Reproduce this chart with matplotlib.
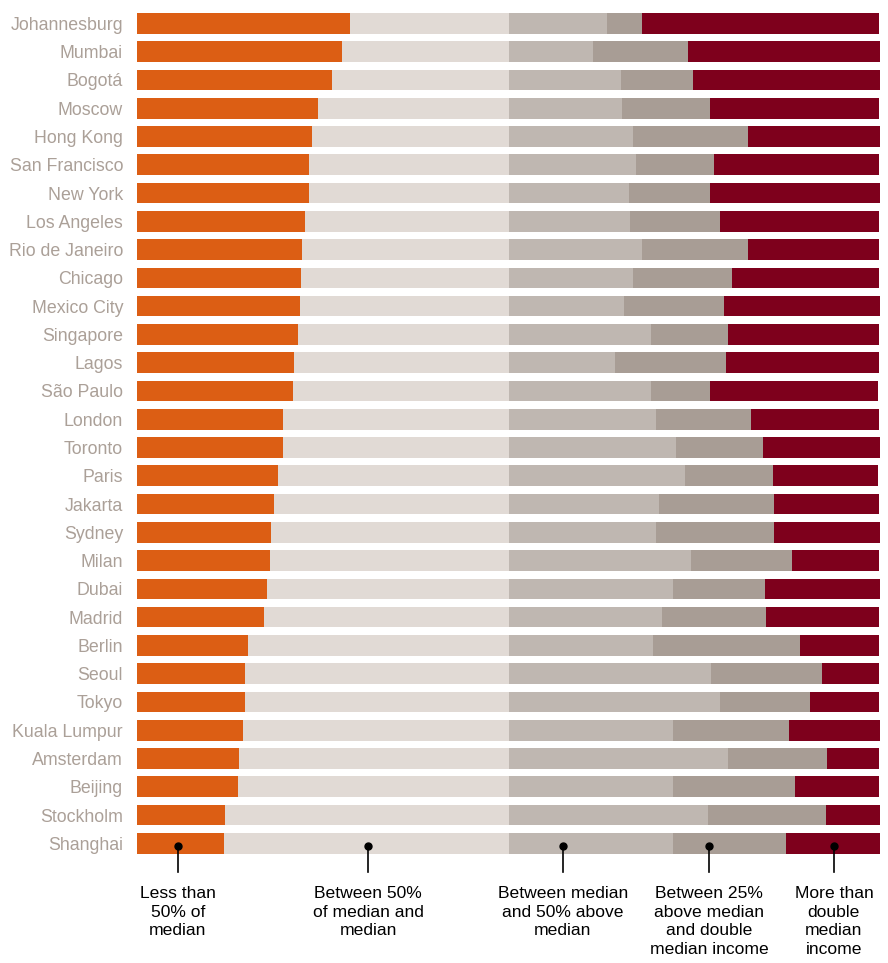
import matplotlib
matplotlib.use("Agg")
import matplotlib.pyplot as plt
import numpy as np

cities = ["Johannesburg", "Mumbai", "Bogotá", "Moscow", "Hong Kong", "San Francisco",
          "New York", "Los Angeles", "Rio de Janeiro", "Chicago", "Mexico City",
          "Singapore", "Lagos", "São Paulo", "London", "Toronto", "Paris", "Jakarta",
          "Sydney", "Milan", "Dubai", "Madrid", "Berlin", "Seoul", "Tokyo",
          "Kuala Lumpur", "Amsterdam", "Beijing", "Stockholm", "Shanghai"]

# share of households (%) in each income band
below_half = [28.7, 27.6, 26.2, 24.4, 23.6, 23.1, 23.1, 22.6, 22.2, 22.1, 21.9,
              21.7, 21.1, 21.0, 19.7, 19.7, 19.0, 18.4, 18.0, 17.9, 17.5, 17.1,
              14.9, 14.5, 14.5, 14.3, 13.7, 13.6, 11.8, 11.7]
half_to_median = [50 - v for v in below_half]
median_to_150 = [13.2, 11.4, 15.1, 15.3, 16.7, 17.1, 16.2, 16.4, 18.0, 16.8, 15.5,
                 19.2, 14.4, 19.2, 19.9, 22.6, 23.8, 20.2, 19.8, 24.5, 22.1, 20.6,
                 19.4, 27.3, 28.4, 22.1, 29.6, 22.1, 26.8, 22.2]
p125_to_double = [4.8, 12.7, 9.7, 11.8, 15.5, 10.6, 10.9, 12.0, 14.3, 13.3, 13.5,
                  10.4, 14.9, 7.9, 12.8, 11.7, 11.8, 15.6, 15.9, 13.7, 12.4, 14.1,
                  19.9, 14.9, 12.2, 15.6, 13.3, 16.4, 15.9, 15.1]
above_double = [31.9, 26.0, 25.2, 22.7, 17.8, 22.1, 22.9, 21.5, 17.6, 19.7, 21.0,
                20.3, 20.6, 22.6, 17.2, 15.7, 14.1, 14.1, 14.3, 11.6, 15.5, 15.1,
                10.6, 7.7, 9.2, 12.4, 7.0, 11.4, 7.3, 12.7]

legend_labels = ["Less than\n50% of\nmedian",
                 "Between 50%\nof median and\nmedian",
                 "Between median\nand 50% above\nmedian",
                 "Between 25%\nabove median\nand double\nmedian income",
                 "More than\ndouble\nmedian\nincome"]
legend_x = [5.5, 31.1, 57.3, 77.0, 93.8]

colors = ["#DC5E14", "#E1DAD5", "#BFB7B1", "#A89D95", "#7E001C"]
label_color = "#ABA098"

plt.rcParams['font.family'] = ['Liberation Sans', 'DejaVu Sans']

fig = plt.figure(figsize=(8.88, 9.63), dpi=100)
W, H = 888, 963
top_px, bot_px = 9.3, 857.5
ax = fig.add_axes([137 / W, 1 - bot_px / H, (880 - 137) / W, (bot_px - top_px) / H])

series = [below_half, half_to_median, median_to_150, p125_to_double, above_double]
y = np.arange(len(cities))
left = np.zeros(len(cities))
for vals, c in zip(series, colors):
    vals = np.array(vals)
    ax.barh(y, vals, left=left, height=0.73, color=c, linewidth=0)
    left += vals

ax.set_xlim(0, 100)
ax.set_ylim(len(cities) - 0.5, -0.5)
ax.set_yticks(y)
ax.set_yticklabels(cities, fontsize=12.8, color=label_color)
ax.tick_params(axis='y', length=0, pad=10)
ax.set_xticks([])
for s in ax.spines.values():
    s.set_visible(False)

# callouts on the last bar
last = len(cities) - 1
for lx, lab in zip(legend_x, legend_labels):
    ax.plot([lx, lx], [last + 0.08, last + 1.02], color="black", lw=1.2, clip_on=False)
    ax.plot([lx], [last + 0.08], marker="o", ms=5, color="black", clip_on=False)
    ax.text(lx, last + 1.50, lab, ha="center", va="top", fontsize=12.6,
            color="black", linespacing=1.32, clip_on=False)

fig.savefig("out.png", dpi=100)
